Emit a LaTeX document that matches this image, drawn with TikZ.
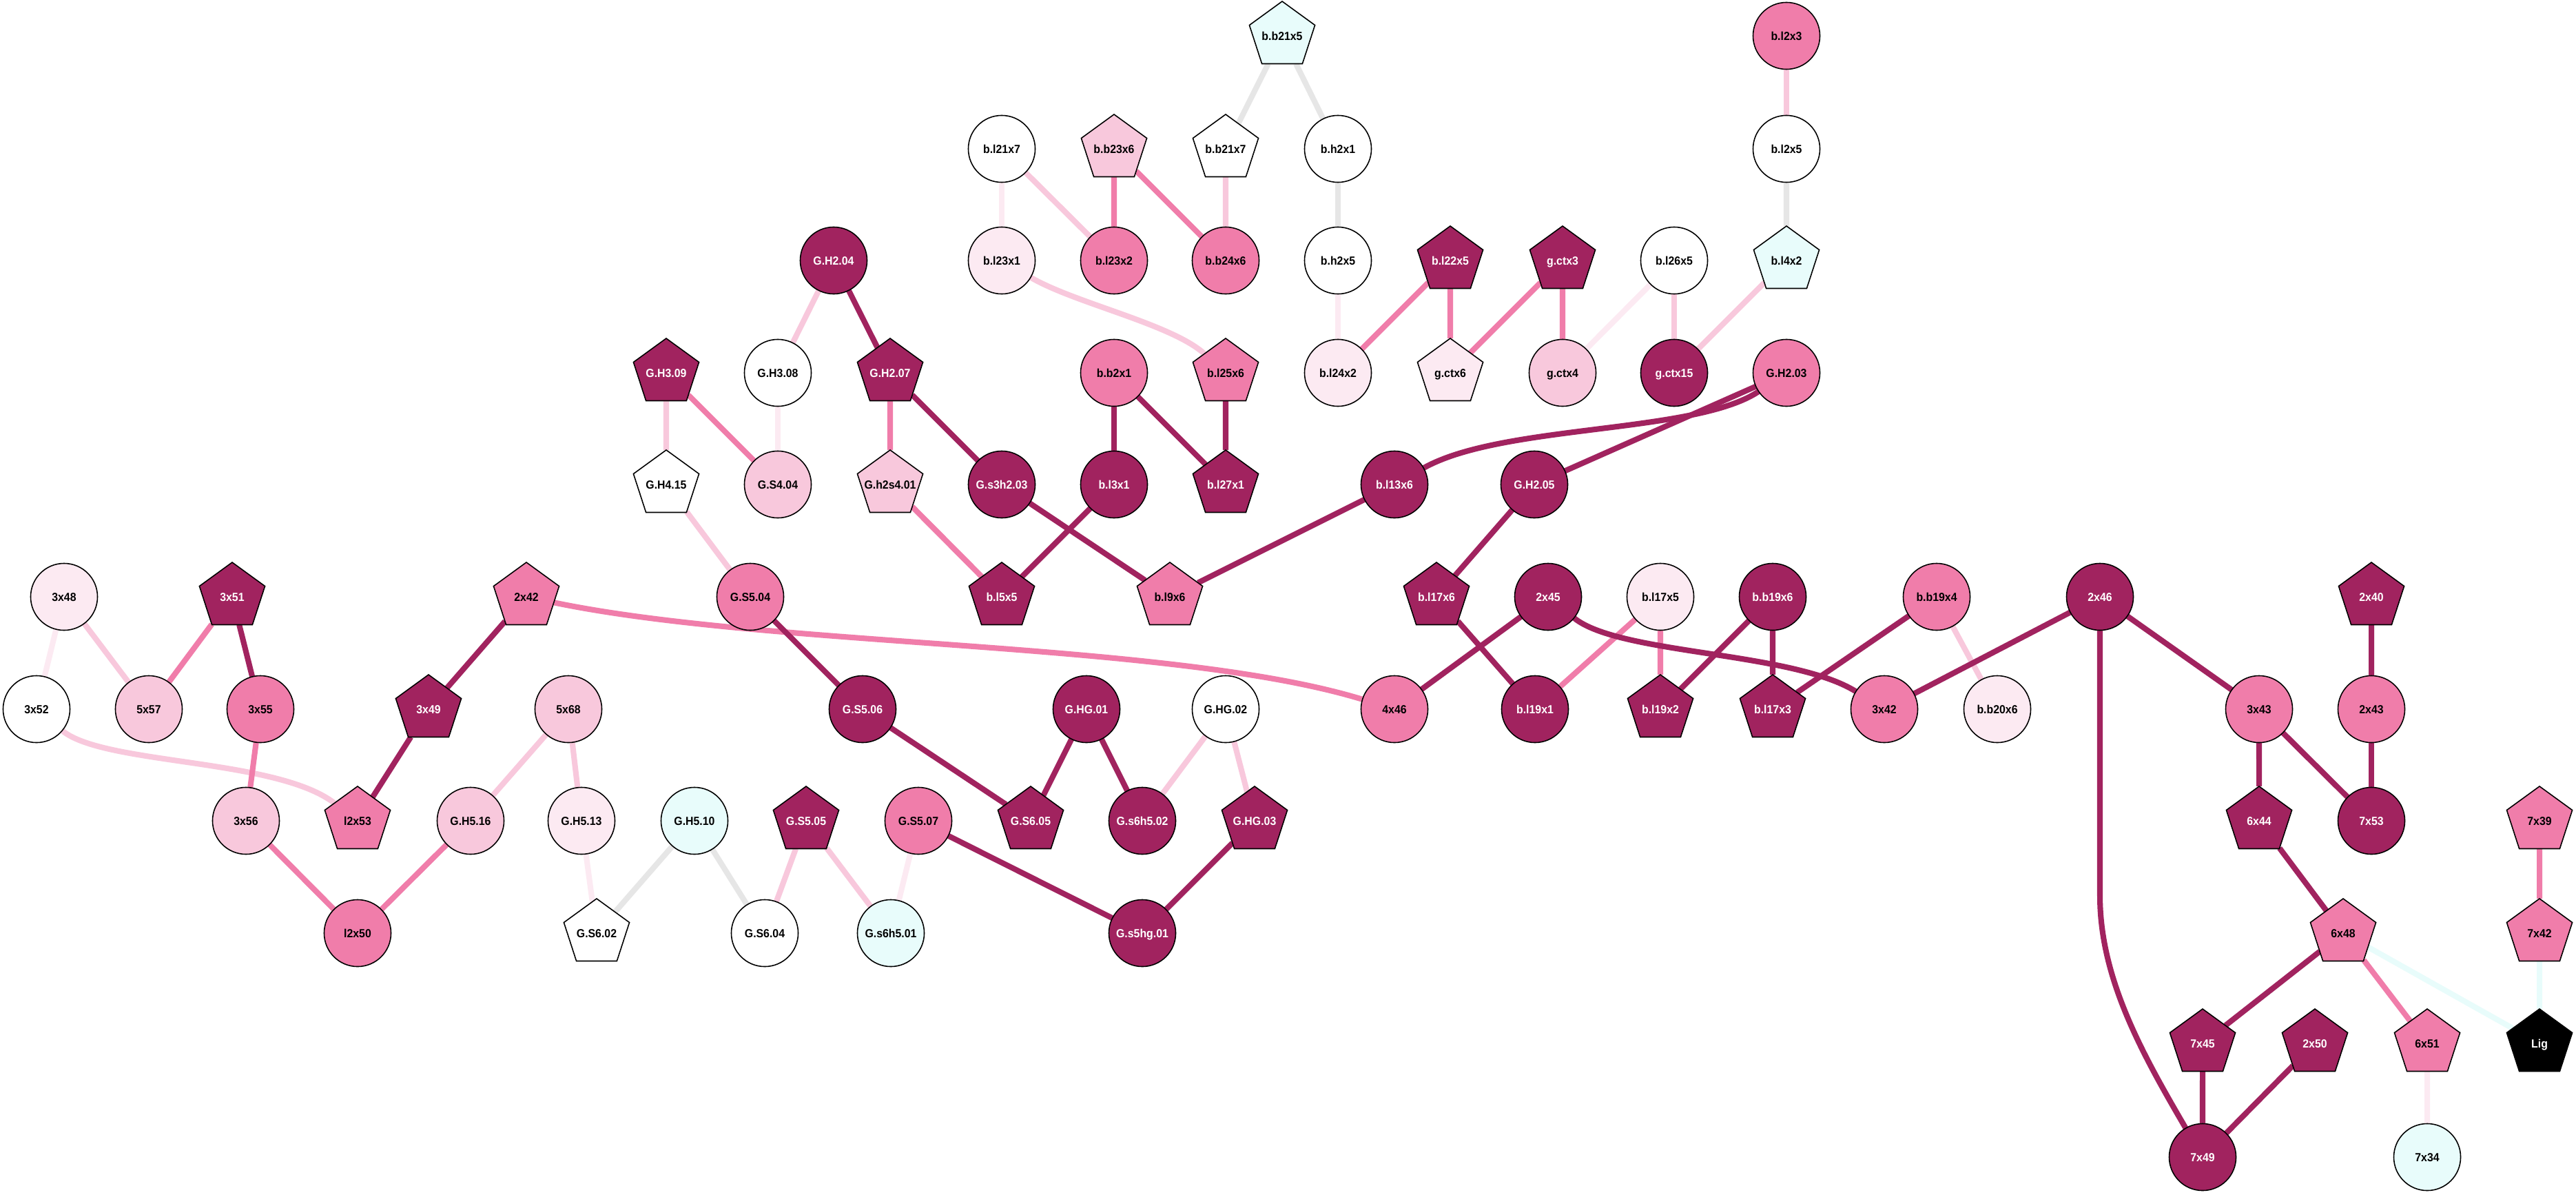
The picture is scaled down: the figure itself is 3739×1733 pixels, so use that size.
\documentclass[tikz,border=0pt]{standalone}
\usepackage{fontspec}
\newfontfamily\labfont[FakeStretch=0.93]{Liberation Sans}
\usetikzlibrary{shapes.geometric}
\pgfdeclarelayer{back}
\pgfdeclarelayer{bg}
\pgfsetlayers{back,bg,main}
\definecolor{cD}{HTML}{A1235F}
\definecolor{cM}{HTML}{F07DAA}
\definecolor{cL}{HTML}{F8C8DC}
\definecolor{cV}{HTML}{FCEAF2}
\definecolor{cC}{HTML}{E8FCFB}
\definecolor{cG}{HTML}{E6E6E6}
\tikzset{
  base/.style={draw=black, line width=0.45pt, inner sep=0pt, outer sep=0pt,
    text height=3.5pt, text depth=0pt,
    font=\labfont\bfseries\fontsize{4.85pt}{5.5pt}\selectfont},
  ci/.style={base, circle, minimum size=0.97cm},
  pe/.style={base, regular polygon, regular polygon sides=5, minimum size=1.0cm, inner sep=-2mm},
  kD/.style={fill=cD, text=white},
  kM/.style={fill=cM, text=black},
  kL/.style={fill=cL, text=black},
  kV/.style={fill=cV, text=black},
  kW/.style={fill=white, text=black},
  kC/.style={fill=cC, text=black},
  kK/.style={fill=black, text=white},
  edge/.style={line width=2.3pt},
  eD/.style={edge, draw=cD},
  eM/.style={edge, draw=cM},
  eL/.style={edge, draw=cL},
  eV/.style={edge, draw=cV},
  eC/.style={edge, draw=cC},
  eG/.style={edge, draw=cG}
}
\begin{document}
\begin{tikzpicture}[x=0.01cm, y=-0.01cm]
\begin{pgfonlayer}{back}
\fill[white] (0,0) rectangle (3739,1733);
\end{pgfonlayer}
\useasboundingbox (0,0) rectangle (3739,1733);
% row 1
\node[pe,kC] (bb21x5) at (1861,52) {b.b21x5};
\node[ci,kM] (bl2x3) at (2593,52) {b.l2x3};
% row 2
\node[ci,kW] (bl21x7) at (1454,216) {b.l21x7};
\node[pe,kL] (bb23x6) at (1617,216) {b.b23x6};
\node[pe,kW] (bb21x7) at (1779,216) {b.b21x7};
\node[ci,kW] (bh2x1) at (1942,216) {b.h2x1};
\node[ci,kW] (bl2x5) at (2593,216) {b.l2x5};
% row 3
\node[ci,kD] (GH204) at (1210,378) {G.H2.04};
\node[ci,kV] (bl23x1) at (1454,378) {b.l23x1};
\node[ci,kM] (bl23x2) at (1617,378) {b.l23x2};
\node[ci,kM] (bb24x6) at (1779,378) {b.b24x6};
\node[ci,kW] (bh2x5) at (1942,378) {b.h2x5};
\node[pe,kD] (bl22x5) at (2105,378) {b.l22x5};
\node[pe,kD] (gctx3) at (2268,378) {g.ctx3};
\node[ci,kW] (bl26x5) at (2430,378) {b.l26x5};
\node[pe,kC] (bl4x2) at (2593,378) {b.l4x2};
% row 4
\node[pe,kD] (GH309) at (967,541) {G.H3.09};
\node[ci,kW] (GH308) at (1129,541) {G.H3.08};
\node[pe,kD] (GH207) at (1292,541) {G.H2.07};
\node[ci,kM] (bb2x1) at (1617,541) {b.b2x1};
\node[pe,kM] (bl25x6) at (1779,541) {b.l25x6};
\node[ci,kV] (bl24x2) at (1942,541) {b.l24x2};
\node[pe,kV] (gctx6) at (2105,541) {g.ctx6};
\node[ci,kL] (gctx4) at (2268,541) {g.ctx4};
\node[ci,kD] (gctx15) at (2430,541) {g.ctx15};
\node[ci,kM] (GH203) at (2593,541) {G.H2.03};
% row 5
\node[pe,kW] (GH415) at (967,703) {G.H4.15};
\node[ci,kL] (GS404) at (1129,703) {G.S4.04};
\node[pe,kL] (Gh2s401) at (1292,703) {G.h2s4.01};
\node[ci,kD] (Gs3h203) at (1454,703) {G.s3h2.03};
\node[ci,kD] (bl3x1) at (1617,703) {b.l3x1};
\node[pe,kD] (bl27x1) at (1779,703) {b.l27x1};
\node[ci,kD] (bl13x6) at (2024,703) {b.l13x6};
\node[ci,kD] (GH205) at (2227,703) {G.H2.05};
% row 6
\node[ci,kV] (n3x48) at (93,866) {3x48};
\node[pe,kD] (n3x51) at (337,866) {3x51};
\node[pe,kM] (n2x42) at (764,866) {2x42};
\node[ci,kM] (GS504) at (1089,866) {G.S5.04};
\node[pe,kD] (bl5x5) at (1454,866) {b.l5x5};
\node[pe,kM] (bl9x6) at (1698,866) {b.l9x6};
\node[pe,kD] (bl17x6) at (2085,866) {b.l17x6};
\node[ci,kD] (n2x45) at (2247,866) {2x45};
\node[ci,kV] (bl17x5) at (2410,866) {b.l17x5};
\node[ci,kD] (bb19x6) at (2573,866) {b.b19x6};
\node[ci,kM] (bb19x4) at (2811,866) {b.b19x4};
\node[ci,kD] (n2x46) at (3048,866) {2x46};
\node[pe,kD] (n2x40) at (3442,866) {2x40};
% row 7
\node[ci,kW] (n3x52) at (53,1029) {3x52};
\node[ci,kL] (n5x57) at (216,1029) {5x57};
\node[ci,kM] (n3x55) at (378,1029) {3x55};
\node[pe,kD] (n3x49) at (622,1029) {3x49};
\node[ci,kL] (n5x68) at (825,1029) {5x68};
\node[ci,kD] (GS506) at (1252,1029) {G.S5.06};
\node[ci,kD] (GHG01) at (1577,1029) {G.HG.01};
\node[ci,kW] (GHG02) at (1779,1029) {G.HG.02};
\node[ci,kM] (n4x46) at (2024,1029) {4x46};
\node[ci,kD] (bl19x1) at (2228,1029) {b.l19x1};
\node[pe,kD] (bl19x2) at (2410,1029) {b.l19x2};
\node[pe,kD] (bl17x3) at (2573,1029) {b.l17x3};
\node[ci,kM] (n3x42) at (2735,1029) {3x42};
\node[ci,kV] (bb20x6) at (2899,1029) {b.b20x6};
\node[ci,kM] (n3x43) at (3279,1029) {3x43};
\node[ci,kM] (n2x43) at (3442,1029) {2x43};
% row 8
\node[ci,kL] (n3x56) at (357,1191) {3x56};
\node[pe,kM] (l2x53) at (519,1191) {l2x53};
\node[ci,kL] (GH516) at (683,1191) {G.H5.16};
\node[ci,kV] (GH513) at (844,1191) {G.H5.13};
\node[ci,kC] (GH510) at (1008,1191) {G.H5.10};
\node[pe,kD] (GS505) at (1170,1191) {G.S5.05};
\node[ci,kM] (GS507) at (1333,1191) {G.S5.07};
\node[pe,kD] (GS605) at (1496,1191) {G.S6.05};
\node[ci,kD] (Gs6h502) at (1658,1191) {G.s6h5.02};
\node[pe,kD] (GHG03) at (1821,1191) {G.HG.03};
\node[pe,kD] (n6x44) at (3279,1191) {6x44};
\node[ci,kD] (n7x53) at (3442,1191) {7x53};
\node[pe,kM] (n7x39) at (3686,1191) {7x39};
% row 9
\node[ci,kM] (l2x50) at (519,1354) {l2x50};
\node[pe,kW] (GS602) at (866,1354) {G.S6.02};
\node[ci,kW] (GS604) at (1110,1354) {G.S6.04};
\node[ci,kC] (Gs6h501) at (1293,1354) {G.s6h5.01};
\node[ci,kD] (Gs5hg01) at (1658,1354) {G.s5hg.01};
\node[pe,kM] (n6x48) at (3401,1354) {6x48};
\node[pe,kM] (n7x42) at (3686,1354) {7x42};
% row 10
\node[pe,kD] (n7x45) at (3197,1514) {7x45};
\node[pe,kD] (n2x50) at (3360,1514) {2x50};
\node[pe,kM] (n6x51) at (3523,1514) {6x51};
\node[pe,kK] (Lig) at (3686,1514) {Lig};
% row 11
\node[ci,kD] (n7x49) at (3197,1679) {7x49};
\node[ci,kC] (n7x34) at (3523,1679) {7x34};

\begin{pgfonlayer}{bg}
% gray
\draw[eG] (bb21x5) -- (bb21x7);
\draw[eG] (bb21x5) -- (bh2x1);
\draw[eG] (bh2x1) -- (bh2x5);
\draw[eG] (bl2x5) -- (bl4x2);
\draw[eG] (GH510) -- (GS602);
\draw[eG] (GH510) -- (GS604);
% cyan
\draw[eC] (n6x48) -- (Lig);
\draw[eC] (n7x42) -- (Lig);
% very light
\draw[eV] (bl21x7) -- (bl23x1);
\draw[eV] (bh2x5) -- (bl24x2);
\draw[eV] (bl26x5) -- (gctx4);
\draw[eV] (GH308) -- (GS404);
\draw[eV] (n3x48) -- (n3x52);
\draw[eV] (GH513) -- (GS602);
\draw[eV] (GS507) -- (Gs6h501);
\draw[eV] (n6x51) -- (n7x34);
% light
\draw[eL] (bl2x3) -- (bl2x5);
\draw[eL] (bl4x2) -- (gctx15);
\draw[eL] (bl21x7) -- (bl23x2);
\draw[eL] (bb21x7) -- (bb24x6);
\draw[eL] (bl23x1) .. controls (1560,440) and (1700,470) .. (bl25x6);
\draw[eL] (bl26x5) -- (gctx15);
\draw[eL] (GH204) -- (GH308);
\draw[eL] (GH309) -- (GH415);
\draw[eL] (GH415) -- (GS504);
\draw[eL] (n3x48) -- (n5x57);
\draw[eL] (n3x52) .. controls (150,1110) and (400,1100) .. (l2x53);
\draw[eL] (n5x68) -- (GH516);
\draw[eL] (n5x68) -- (GH513);
\draw[eL] (GS505) -- (GS604);
\draw[eL] (GS505) -- (Gs6h501);
\draw[eL] (GHG02) -- (Gs6h502);
\draw[eL] (GHG02) -- (GHG03);
\draw[eL] (bb19x4) -- (bb20x6);
% medium
\draw[eM] (bb23x6) -- (bl23x2);
\draw[eM] (bb23x6) -- (bb24x6);
\draw[eM] (bl22x5) -- (bl24x2);
\draw[eM] (bl22x5) -- (gctx6);
\draw[eM] (gctx3) -- (gctx6);
\draw[eM] (gctx3) -- (gctx4);
\draw[eM] (GH309) -- (GS404);
\draw[eM] (GH207) -- (Gh2s401);
\draw[eM] (Gh2s401) -- (bl5x5);
\draw[eM] (n3x51) -- (n5x57);
\draw[eM] (n3x55) -- (n3x56);
\draw[eM] (n2x42) .. controls (1120,940) and (1700,930) .. (n4x46);
\draw[eM] (n3x56) -- (l2x50);
\draw[eM] (GH516) -- (l2x50);
\draw[eM] (bl17x5) -- (bl19x1);
\draw[eM] (bl17x5) -- (bl19x2);
\draw[eM] (n6x48) -- (n6x51);
\draw[eM] (n7x39) -- (n7x42);
% dark
\draw[eD] (GH204) -- (GH207);
\draw[eD] (GH207) -- (Gs3h203);
\draw[eD] (bb2x1) -- (bl3x1);
\draw[eD] (bb2x1) -- (bl27x1);
\draw[eD] (bl25x6) -- (bl27x1);
\draw[eD] (Gs3h203) -- (bl9x6);
\draw[eD] (bl3x1) -- (bl5x5);
\draw[eD] (bl13x6) -- (bl9x6);
\draw[eD] (GH203) .. controls (2460,630) and (2180,615) .. (bl13x6);
\draw[eD] (GH203) -- (GH205);
\draw[eD] (GH205) -- (bl17x6);
\draw[eD] (GS504) -- (GS506);
\draw[eD] (n3x51) -- (n3x55);
\draw[eD] (n2x42) -- (n3x49);
\draw[eD] (n3x49) -- (l2x53);
\draw[eD] (GS506) -- (GS605);
\draw[eD] (GHG01) -- (GS605);
\draw[eD] (GHG01) -- (Gs6h502);
\draw[eD] (GS507) -- (Gs5hg01);
\draw[eD] (GHG03) -- (Gs5hg01);
\draw[eD] (bl17x6) -- (bl19x1);
\draw[eD] (n2x45) -- (n4x46);
\draw[eD] (n2x45) .. controls (2350,950) and (2600,945) .. (n3x42);
\draw[eD] (bb19x6) -- (bl19x2);
\draw[eD] (bb19x6) -- (bl17x3);
\draw[eD] (bb19x4) -- (bl17x3);
\draw[eD] (n2x46) -- (n3x42);
\draw[eD] (n2x46) -- (n3x43);
\draw[eD] (n2x46) -- (3048,1300) .. controls (3048,1420) and (3110,1530) .. (n7x49);
\draw[eD] (n2x40) -- (n2x43);
\draw[eD] (n3x43) -- (n6x44);
\draw[eD] (n3x43) -- (n7x53);
\draw[eD] (n2x43) -- (n7x53);
\draw[eD] (n6x44) -- (n6x48);
\draw[eD] (n6x48) -- (n7x45);
\draw[eD] (n7x45) -- (n7x49);
\draw[eD] (n2x50) -- (n7x49);
\end{pgfonlayer}
\end{tikzpicture}
\end{document}
